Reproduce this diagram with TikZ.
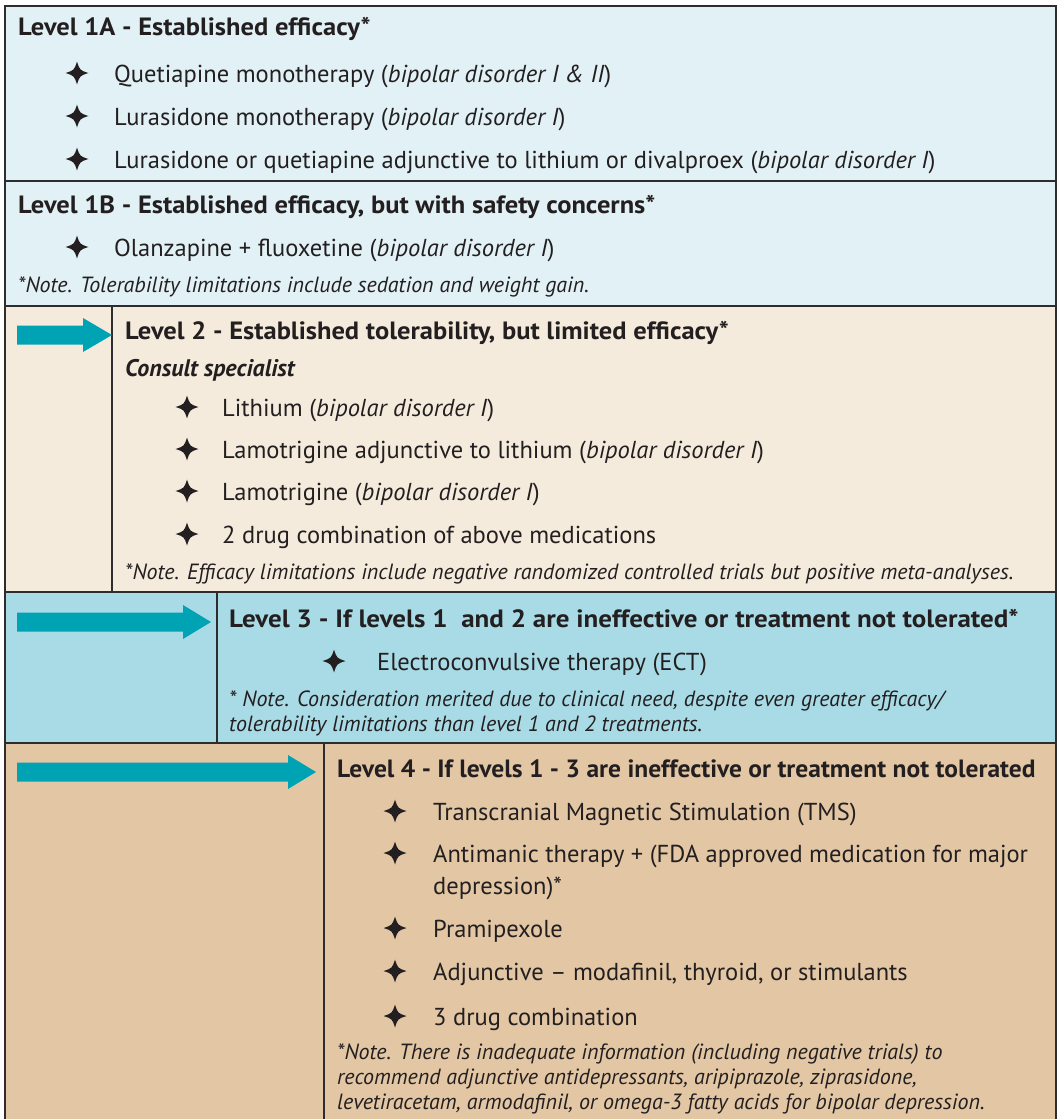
\documentclass[tikz,border=0pt]{standalone}
\usepackage{fontspec}
\setmainfont{PT Sans}
\usetikzlibrary{
  calc,
  positioning,
}
\definecolor{levelone}{HTML}{E1F1F5}
\definecolor{leveltwo}{HTML}{F5EBDD}
\definecolor{levelthree}{HTML}{A9DBE6}
\definecolor{levelfour}{HTML}{E3C7A5}
\definecolor{arrowteal}{HTML}{00A3B4}
\definecolor{ink}{HTML}{231F20}
\definecolor{frame}{HTML}{2E2C2D}
\tikzstyle{heading} = [
  anchor=base west,
  inner sep=0pt,
  text=ink,
  font=\fontsize{25}{29}\selectfont\bfseries\addfontfeature{FakeStretch=1.06},
]
\tikzstyle{entry} = [
  anchor=base west,
  inner sep=0pt,
  text=ink,
  align=left,
  font=\fontsize{24.5}{32}\selectfont,
]
\tikzstyle{note} = [
  anchor=base west,
  inner sep=0pt,
  text=ink,
  align=left,
  font=\fontsize{22}{25}\selectfont\itshape,
]
\tikzstyle{rule} = [line width=2.5pt, draw=frame]
\tikzset{
  sparkle/.pic={
    \fill [ink] (0,-11.5) .. controls (2.8,-2.8) .. (11.5,0)
                .. controls (2.8,2.8) .. (0,11.5)
                .. controls (-2.8,2.8) .. (-11.5,0)
                .. controls (-2.8,-2.8) .. cycle;
  },
}

\begin{document}
\begin{tikzpicture}[x=1pt, y=-1pt]
        \useasboundingbox (0,0) rectangle (1058,1119);

        \fill [levelone] (5,6) rectangle (1056,306);
        \fill [leveltwo] (5,306) rectangle (1056,592);
        \fill [levelthree] (5,592) rectangle (1056,743);
        \fill [levelfour] (5,743) rectangle (1056,1130);

        \draw [rule] (5,6) rectangle (1056,1130);
        \foreach \y in {181, 306, 592, 743} {
          \draw [rule] (5,\y) -- (1056,\y);
        }
        \draw [rule] (112,306) -- (112,592);
        \draw [rule] (217,592) -- (217,743);
        \draw [rule] (324,743) -- (324,1130);

        % arrows into levels 2, 3 and 4
        \foreach \xh/\tip/\cy in {83/112/335, 183/211/622, 288/316/772} {
          \fill [arrowteal] (17,\cy-9.5) -- (\xh,\cy-9.5) -- (\xh,\cy-17)
                -- (\tip,\cy) -- (\xh,\cy+17) -- (\xh,\cy+9.5)
                -- (17,\cy+9.5) -- cycle;
        }

        % level 1A
        \node [heading] (l1a) at (18,35) {Level 1A - Established efficacy*};
        \node [entry] (quet) at (114,82) {Quetiapine monotherapy (\textit{bipolar disorder I \& II})};
        \node [entry] (lura) at (114,125) {Lurasidone monotherapy (\textit{bipolar disorder I})};
        \node [entry] (adj) at (114,168) {Lurasidone or quetiapine adjunctive to lithium or divalproex (\textit{bipolar disorder I})};
        \foreach \y in {82, 125, 168} {
          \pic at (77,\y-9) {sparkle};
        }

        % level 1B
        \node [heading] (l1b) at (18,213) {Level 1B - Established efficacy, but with safety concerns*};
        \node [entry] (olan) at (114,256) {Olanzapine + fluoxetine (\textit{bipolar disorder I})};
        \pic at (77,247) {sparkle};
        \node [note] (note1) at (18,292) {*Note. Tolerability limitations include sedation and weight gain.};

        % level 2
        \node [heading] (l2) at (125,339) {Level 2 - Established tolerability, but limited efficacy*};
        \node [heading, font=\fontsize{24}{28}\selectfont\bfseries\itshape] (consult) at (125,376) {Consult specialist};
        \node [entry] (lith) at (222,416) {Lithium (\textit{bipolar disorder I})};
        \node [entry] (lamadj) at (222,458) {Lamotrigine adjunctive to lithium (\textit{bipolar disorder I})};
        \node [entry] (lam) at (222,500) {Lamotrigine (\textit{bipolar disorder I})};
        \node [entry] (combo2) at (222,543) {2 drug combination of above medications};
        \foreach \y in {416, 458, 500, 543} {
          \pic at (187,\y-9) {sparkle};
        }
        \node [note] (note2) at (125,579) {*Note. Efficacy limitations include negative randomized controlled trials but positive meta-analyses.};

        % level 3
        \node [heading, font=\fontsize{25}{29}\selectfont\bfseries\addfontfeature{FakeStretch=1.08}] (l3) at (229,627) {Level 3 - If levels 1 \ and 2 are ineffective or treatment not tolerated*};
        \node [entry] (ect) at (377,670) {Electroconvulsive therapy (ECT)};
        \pic at (334,661) {sparkle};
        \node [note] (note3) at (229,731) {* Note. Consideration merited due to clinical need, despite even greater efficacy/\\tolerability limitations than level 1 and 2 treatments.};

        % level 4
        \node [heading, font=\fontsize{25}{29}\selectfont\bfseries\addfontfeature{FakeStretch=1.02}] (l4) at (337,777) {Level 4 - If levels 1 - 3 are ineffective or treatment not tolerated};
        \node [entry] (tms) at (433,820) {Transcranial Magnetic Stimulation (TMS)};
        \node [entry] (anti) at (433,894) {Antimanic therapy + (FDA approved medication for major\\depression)*};
        \node [entry] (prami) at (433,937) {Pramipexole};
        \node [entry] (adjmod) at (433,980) {Adjunctive -- modafinil, thyroid, or stimulants};
        \node [entry] (combo3) at (433,1025) {3 drug combination};
        \foreach \y in {820, 862, 937, 980, 1025} {
          \pic at (395,\y-9) {sparkle};
        }
        \node [note] (note4) at (337,1109) {*Note. There is inadequate information (including negative trials) to\\recommend adjunctive antidepressants, aripiprazole, ziprasidone,\\levetiracetam, armodafinil, or omega-3 fatty acids for bipolar depression.};
\end{tikzpicture}
\end{document}
